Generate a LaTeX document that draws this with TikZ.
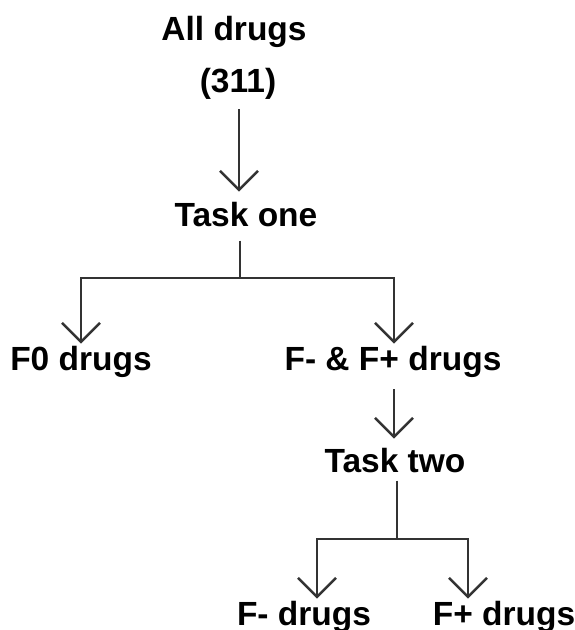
\documentclass[tikz,border=0pt]{standalone}
\usepackage{fontspec}
\setmainfont{Liberation Sans}
\usetikzlibrary{arrows.meta}

\begin{document}
\begin{tikzpicture}[x=1pt,y=-1pt,
    lbl/.style={font=\bfseries\fontsize{33.5}{40}\selectfont, anchor=base, inner sep=0pt},
    link/.style={line width=1.8pt, draw=black!80},
    arr/.style={link, -{Straight Barb[length=19pt,width=38pt,line width=2.4pt]}}]
    \useasboundingbox (0,0) rectangle (574,630);
    % labels
    \node[lbl] (all) at (234,40) {All drugs};
    \node[lbl] (num) at (238,92) {(311)};
    \node[lbl] (taskone) at (246,226) {Task one};
    \node[lbl] (fzero) at (81,370) {F0 drugs};
    \node[lbl] (fboth) at (393,370) {F- \& F+ drugs};
    \node[lbl] (tasktwo) at (395,472) {Task two};
    \node[lbl] (fminus) at (304,625) {F- drugs};
    \node[lbl] (fplus) at (504,625) {F+ drugs};
    % forks
    \coordinate (splitone) at (240,278);
    \coordinate (splittwo) at (397,539);
    % connectors
    \draw[arr, shorten <=10pt, shorten >=10pt] (num.south -| 239,0) -- (taskone.north -| 239,0);
    \draw[link, shorten <=14pt] (taskone.south -| splitone) -- (splitone);
    \draw[arr, shorten >=2pt] (splitone) -| (fzero.north -| 81,0);
    \draw[arr, shorten >=2pt] (splitone) -| (fboth.north -| 394,0);
    \draw[arr, shorten <=12pt, shorten >=9pt] (fboth.south -| 394,0) -- (tasktwo.north -| 394,0);
    \draw[link, shorten <=8pt] (tasktwo.south -| splittwo) -- (splittwo);
    \draw[arr, shorten >=2pt] (splittwo) -| (fminus.north -| 317,0);
    \draw[arr, shorten >=2pt] (splittwo) -| (fplus.north -| 468,0);
\end{tikzpicture}
\end{document}
